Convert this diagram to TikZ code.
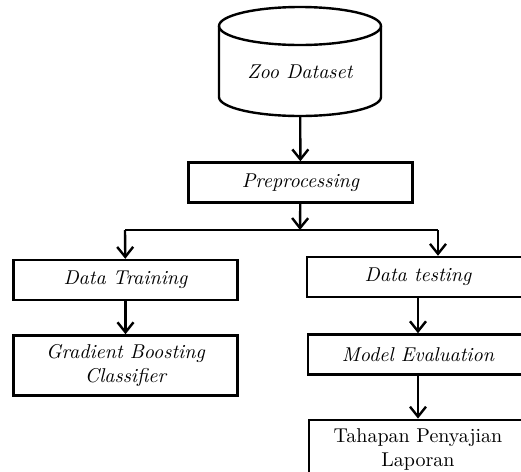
\documentclass[tikz,border=0pt]{standalone}
\usepackage{tikz}
\usetikzlibrary{positioning}
\usetikzlibrary{arrows.meta}

\begin{document}
\begin{tikzpicture}[
        x = 0.5pt, y = -0.5pt,
        every node/.style = {line width = 1.2pt, align = center},
          box/.style = {draw, rectangle, minimum width = 112pt, minimum height = 20pt, font = \itshape},
          db/.style = {rectangle, inner sep = 0pt, outer sep = 0pt, minimum width = 81pt, minimum height = 44pt, font = \itshape},
          arr/.style = {line width = 1.2pt, -{Straight Barb[length = 5pt, width = 8pt]}}
        ]
        \useasboundingbox (0,0) rectangle (521,472);
        \clip (0,0) rectangle (521,472);
        \node[db] (zoo) at (300,72) {Zoo Dataset};
        % the drum round the dataset
        \draw[line width = 1.2pt] ([yshift = 23pt]zoo.center) ellipse [x radius = 40.5pt, y radius = 9.5pt];
        \draw[line width = 1.2pt] ([xshift = -40.5pt, yshift = 23pt]zoo.center) -- ([xshift = -40.5pt, yshift = -12.5pt]zoo.center)
              arc [start angle = 180, end angle = 360, x radius = 40.5pt, y radius = 9.5pt]
              -- ([xshift = 40.5pt, yshift = 23pt]zoo.center);
        \node[box] (prep) at (300.5,182.5) {Preprocessing};
        \node[box] (train) at (125.5,280) {Data Training};
        \node[box, minimum width = 111pt] (test) at (418,277) {Data testing};
        \node[box, minimum height = 30pt] (gbc) [below = 16.5pt of train] {Gradient Boosting\\Classifier};
        \node[box, minimum width = 110pt] (eval) [below = 17.5pt of test] {Model Evaluation};
        \node[box, minimum width = 109pt, minimum height = 30pt, font = \upshape] (lap) [below = 21.5pt of eval] {Tahapan Penyajian\\Laporan};
        \coordinate (split) at (300,230);
        \coordinate (l) at (125,230);
        \coordinate (r) at (438,230);
        \draw[arr] (zoo) -- (prep);
        \draw[arr] (prep) -- (split);
        \draw[line width = 1.2pt] (l) -- (r);
        \draw[arr] (l) -- (train);
        \draw[arr] (r) -- (r |- test.north);
        \draw[arr] (train) -- (gbc);
        \draw[arr] (test) -- (eval);
        \draw[arr] (eval) -- (lap);
\end{tikzpicture}
\end{document}
